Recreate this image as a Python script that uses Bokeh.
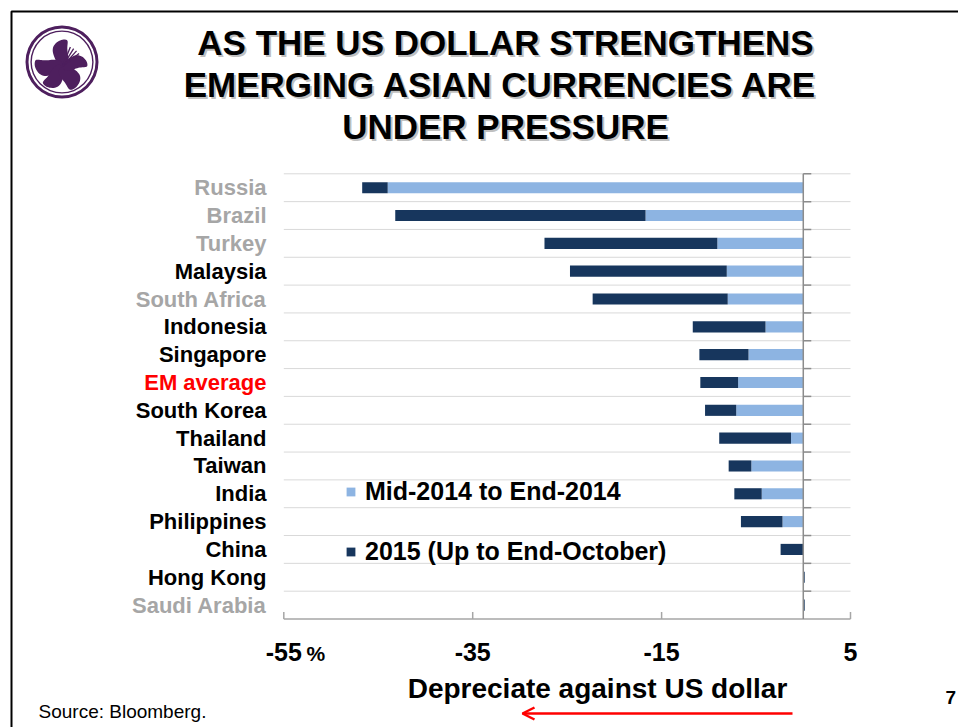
import numpy as np
from bokeh.plotting import figure
from bokeh.models import (Range1d, Arrow, OpenHead, Legend, LegendItem, ColumnDataSource)
from bokeh.core.properties import value
from bokeh.embed import file_html
from bokeh.resources import INLINE

# ---------------- data ----------------
countries = ["Russia", "Brazil", "Turkey", "Malaysia", "South Africa", "Indonesia",
             "Singapore", "EM average", "South Korea", "Thailand", "Taiwan", "India",
             "Philippines", "China", "Hong Kong", "Saudi Arabia"]
country_group = ["other", "other", "other", "asia", "other", "asia",
                 "asia", "em", "asia", "asia", "asia", "asia",
                 "asia", "asia", "asia", "other"]
mid2014_to_end2014 = [-44.0, -16.7, -9.1, -8.1, -8.0, -4.0, -5.8, -6.9, -7.1, -1.3,
                      -5.5, -4.4, -2.2, 0.0, 0.0, 0.0]
ytd_2015 = [-2.7, -26.5, -18.3, -16.6, -14.3, -7.7, -5.2, -4.0, -3.3, -7.6,
            -2.4, -2.9, -4.4, -2.4, 0.15, 0.15]
x_ticks = [-55, -35, -15, 5]
x_tick_labels = ["-55", "-35", "-15", "5"]
x_unit = "%"
x_title = "Depreciate against US dollar"
title_lines = ["AS THE US DOLLAR STRENGTHENS", "EMERGING ASIAN  CURRENCIES ARE", "UNDER PRESSURE"]
series_names = ["Mid-2014 to End-2014", "2015 (Up to End-October)"]
source_text = "Source: Bloomberg."
page_number = "7"

# ---------------- styles / layout ----------------
LIGHT = "#8DB4E2"
DARK = "#17365D"
GROUP_COLORS = {"other": "#A6A6A6", "asia": "#000000", "em": "#FF0000"}
FONT = "Liberation Sans"
PURPLE = "#4E1F5E"

W, H = 958, 727
PX_PER_UNIT = 566.7 / 60.0    # horizontal scale of the value axis (px per %)
LEFT_PX = 283.3               # page x of the first tick
CAT_PX = 27.825               # height of one category row
CHART_TOP = 173.3             # page y of the top of the chart area
CHART_BOTTOM = 618.5          # page y of the bottom axis

n = len(countries)
ypos = list(range(n - 1, -1, -1))
x_start = x_ticks[0] - LEFT_PX / PX_PER_UNIT
x_end = x_start + W / PX_PER_UNIT
y_start = -0.5 - (H - CHART_BOTTOM) / CAT_PX
y_end = n - 0.5 + CHART_TOP / CAT_PX

p = figure(width=W, height=H, output_backend="svg", toolbar_location=None,
           x_axis_type=None, y_axis_type=None,
           x_range=Range1d(x_start, x_end), y_range=Range1d(y_start, y_end),
           min_border=0)
p.outline_line_color = None
p.background_fill_color = "white"
p.border_fill_color = "white"
p.grid.visible = False
# page-pixel ranges for decorations (x right, y down)
p.extra_x_ranges = {"px": Range1d(0, W)}
p.extra_y_ranges = {"px": Range1d(H, 0)}

# ---------------- gridlines / axis lines ----------------
bounds = [y + 0.5 for y in ypos]
p.segment(x0=[x_ticks[0]] * n, x1=[x_ticks[-1]] * n, y0=bounds, y1=bounds,
          line_color="#D9D9D9", line_width=1)
p.segment(x0=[x_ticks[0]], x1=[x_ticks[-1]], y0=[-0.5], y1=[-0.5],
          line_color="#A6A6A6", line_width=1.5)
tick_up = 7 / CAT_PX
p.segment(x0=x_ticks, x1=x_ticks, y0=[-0.5] * len(x_ticks),
          y1=[-0.5 + tick_up] * len(x_ticks), line_color="#A6A6A6", line_width=1.5)

# ---------------- bars ----------------
light_left = mid2014_to_end2014
light_right = [0.0] * n
dark_left = [a + b for a, b in zip(mid2014_to_end2014, ytd_2015)]
dark_right = mid2014_to_end2014
src = ColumnDataSource(dict(y=ypos, ll=light_left, lr=light_right,
                            dl=dark_left, dr=dark_right))
r_light = p.hbar(y="y", left="ll", right="lr", height=0.4, source=src,
                 fill_color=LIGHT, line_color=None)
r_dark = p.hbar(y="y", left="dl", right="dr", height=0.4, source=src,
                fill_color=DARK, line_color=None)

# zero line with small ticks to the right
p.segment(x0=[0], x1=[0], y0=[-0.5], y1=[n - 0.5], line_color="#8C8C8C", line_width=1.5)
tick_len = 8 / PX_PER_UNIT
p.segment(x0=[0] * n, x1=[tick_len] * n, y0=bounds, y1=bounds,
          line_color="#8C8C8C", line_width=1.5)

# ---------------- category labels ----------------
p.text(x=[266] * n, y=ypos, text=countries, x_range_name="px",
       text_color=[GROUP_COLORS[g] for g in country_group],
       text_align="right", text_baseline="middle",
       text_font=value(FONT), text_font_style="bold", text_font_size="22px")

# ---------------- x tick labels, unit, title ----------------
p.text(x=x_ticks, y=[651] * len(x_ticks), text=x_tick_labels, y_range_name="px",
       text_align="center", text_baseline="middle", text_color="black",
       text_font=value(FONT), text_font_style="bold", text_font_size="25px")
p.text(x=[306], y=[653], text=[x_unit], x_range_name="px", y_range_name="px",
       text_align="left", text_baseline="middle", text_color="black",
       text_font=value(FONT), text_font_style="bold", text_font_size="21px")
p.text(x=[597], y=[688], text=[x_title], x_range_name="px", y_range_name="px",
       text_align="center", text_baseline="middle", text_color="black",
       text_font=value(FONT), text_font_style="bold", text_font_size="28px")
p.add_layout(Arrow(x_start=792, y_start=713, x_end=522, y_end=713,
                   x_range_name="px", y_range_name="px",
                   line_color="#FF0000", line_width=2.5,
                   end=OpenHead(size=12, line_color="#FF0000", line_width=2.5)))

# ---------------- legend ----------------
legend = Legend(items=[LegendItem(label=series_names[0], renderers=[r_light]),
                       LegendItem(label=series_names[1], renderers=[r_dark])],
                location=(345, 161), orientation="vertical",
                glyph_width=11, glyph_height=11, label_height=28, spacing=31,
                label_standoff=9, padding=0, margin=0,
                border_line_color=None, background_fill_alpha=0,
                label_text_font=FONT, label_text_font_style="bold",
                label_text_font_size="25px", label_text_color="black")
p.add_layout(legend, "center")

# ---------------- title with shadow ----------------
ty = [42, 84, 126]
p.text(x=[505] * 3, y=ty, text=title_lines, x_range_name="px", y_range_name="px",
       x_offset=2, y_offset=2, text_color="#8A8A8A", text_alpha=0.55,
       text_align="center", text_baseline="middle",
       text_font=value(FONT), text_font_style="bold", text_font_size="35px")
p.text(x=[505] * 3, y=ty, text=title_lines, x_range_name="px", y_range_name="px",
       text_color="black", text_align="center", text_baseline="middle",
       text_font=value(FONT), text_font_style="bold", text_font_size="35px")

# ---------------- logo ----------------
p.annulus(x=[61.5], y=[61.5], inner_radius=33.5, outer_radius=36.5,
          x_range_name="px", y_range_name="px", fill_color=PURPLE, line_color=None)
p.annulus(x=[61.5], y=[61.5], inner_radius=30.2, outer_radius=31.6,
          x_range_name="px", y_range_name="px", fill_color=PURPLE, line_color=None)
cx, cy = 62.0, 66.0
petal_xs, petal_ys = [], []
for ang, L, Wd in [(85, 27, 15), (172, 28, 16), (225, 26, 15), (295, 25, 17), (5, 25, 13)]:
    t = np.linspace(0, np.pi, 30)
    u = L * (1 - np.cos(t)) / 2
    v = (Wd / 2) * np.sin(t) ** 0.8
    uu = np.concatenate([u, u[::-1]])
    vv = np.concatenate([v, -v[::-1]]) + 0.25 * uu * np.sin(np.pi * uu / L)
    a = np.deg2rad(ang)
    petal_xs.append(list(cx + uu * np.cos(a) - vv * np.sin(a)))
    petal_ys.append(list(cy - (uu * np.sin(a) + vv * np.cos(a))))
p.patches(xs=petal_xs, ys=petal_ys, x_range_name="px", y_range_name="px",
          fill_color=PURPLE, line_color=None)
st_ang = np.deg2rad([38, 48, 58, 68])
p.segment(x0=[cx] * 4, y0=[cy] * 4, x1=list(cx + 21 * np.cos(st_ang)),
          y1=list(cy - 21 * np.sin(st_ang)),
          x_range_name="px", y_range_name="px", line_color=PURPLE, line_width=1.3)

# ---------------- slide border, source, page number ----------------
p.line(x=[11, 11, W + 5], y=[H + 5, 11, 11], x_range_name="px", y_range_name="px",
       line_color="black", line_width=2)
p.text(x=[38], y=[711], text=[source_text], x_range_name="px", y_range_name="px",
       text_align="left", text_baseline="middle", text_color="black",
       text_font=value(FONT), text_font_size="19px")
p.text(x=[945], y=[697], text=[page_number], x_range_name="px", y_range_name="px",
       text_align="left", text_baseline="middle", text_color="black",
       text_font=value(FONT), text_font_style="bold", text_font_size="19px")

open("out.html", "w").write(file_html(p, INLINE))
